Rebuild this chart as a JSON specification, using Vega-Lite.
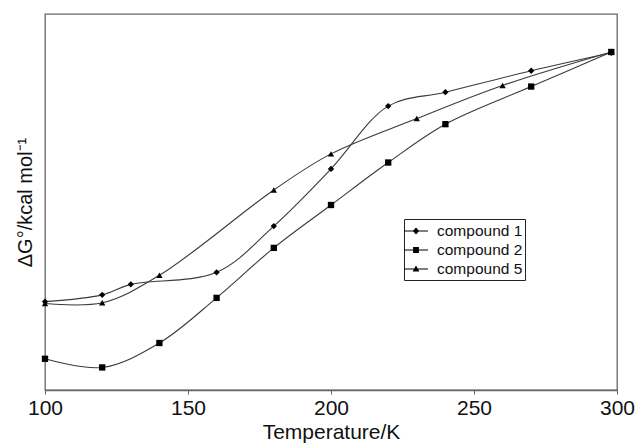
{
  "$schema": "https://vega.github.io/schema/vega-lite/v6.json",
  "width": 572,
  "height": 376,
  "autosize": {"type": "none"},
  "padding": {"left": 45, "top": 14, "right": 18, "bottom": 53},
  "background": "white",
  "config": {
    "font": "Liberation Sans",
    "view": {"stroke": "#666666", "strokeWidth": 1.3}
  },
  "data": {
    "values": [
      {"T": 100, "G": 23.5, "series": "compound 1"},
      {"T": 120, "G": 25.3, "series": "compound 1"},
      {"T": 130, "G": 28.1, "series": "compound 1"},
      {"T": 160, "G": 31.3, "series": "compound 1"},
      {"T": 180, "G": 43.6, "series": "compound 1"},
      {"T": 200, "G": 58.8, "series": "compound 1"},
      {"T": 220, "G": 75.5, "series": "compound 1"},
      {"T": 240, "G": 79.2, "series": "compound 1"},
      {"T": 270, "G": 84.9, "series": "compound 1"},
      {"T": 298, "G": 89.7, "series": "compound 1"},
      {"T": 100, "G": 8.3, "series": "compound 2"},
      {"T": 120, "G": 6.0, "series": "compound 2"},
      {"T": 140, "G": 12.5, "series": "compound 2"},
      {"T": 160, "G": 24.5, "series": "compound 2"},
      {"T": 180, "G": 37.8, "series": "compound 2"},
      {"T": 200, "G": 49.2, "series": "compound 2"},
      {"T": 220, "G": 60.5, "series": "compound 2"},
      {"T": 240, "G": 70.7, "series": "compound 2"},
      {"T": 270, "G": 80.7, "series": "compound 2"},
      {"T": 298, "G": 89.9, "series": "compound 2"},
      {"T": 100, "G": 23.0, "series": "compound 5"},
      {"T": 120, "G": 23.2, "series": "compound 5"},
      {"T": 140, "G": 30.5, "series": "compound 5"},
      {"T": 180, "G": 53.2, "series": "compound 5"},
      {"T": 200, "G": 62.8, "series": "compound 5"},
      {"T": 230, "G": 72.2, "series": "compound 5"},
      {"T": 260, "G": 81.0, "series": "compound 5"},
      {"T": 298, "G": 89.9, "series": "compound 5"}
    ]
  },
  "encoding": {
    "x": {
      "field": "T", "type": "quantitative",
      "scale": {"domain": [100, 300], "nice": false, "zero": false},
      "axis": {
        "title": "Temperature/K",
        "values": [100, 150, 200, 250, 300],
        "grid": false,
        "domainColor": "#666666",
        "domainWidth": 1.3,
        "tickColor": "#666666",
        "tickSize": 4,
        "labelFontSize": 21,
        "labelColor": "#111111",
        "labelPadding": 3,
        "labelFlush": false,
        "titleFontSize": 21,
        "titleFontWeight": "normal",
        "titleColor": "#111111",
        "titlePadding": 3
      }
    },
    "y": {
      "field": "G", "type": "quantitative",
      "scale": {"domain": [0, 100], "nice": false},
      "axis": {
        "title": "ΔG°/kcal mol⁻¹",
        "labels": false,
        "ticks": false,
        "grid": false,
        "domain": false,
        "titleFontSize": 20,
        "titleFontWeight": "normal",
        "titleColor": "#111111",
        "titlePadding": 10
      }
    }
  },
  "layer": [
    {
      "mark": {"type": "line", "interpolate": "catmull-rom", "color": "#3a3a3a", "strokeWidth": 1.1},
      "encoding": {"detail": {"field": "series"}}
    },
    {
      "mark": {"type": "point", "filled": true, "color": "black", "opacity": 1, "size": 40},
      "encoding": {
        "shape": {
          "field": "series", "type": "nominal",
          "scale": {"domain": ["compound 1", "compound 2", "compound 5"], "range": ["diamond", "square", "triangle-up"]},
          "legend": null
        }
      }
    },
    {
      "mark": {"type": "point", "filled": true, "color": "black", "opacity": 0, "size": 1},
      "encoding": {
        "shape": {
          "field": "series", "type": "nominal",
          "scale": {
            "domain": ["compound 1", "compound 2", "compound 5"],
            "range": [
              "M-1.2,-0.055H1.2V0.055H-1.2ZM0,-0.36L0.32,0L0,0.36L-0.32,0Z",
              "M-1.2,-0.055H1.2V0.055H-1.2ZM-0.29,-0.29H0.29V0.29H-0.29Z",
              "M-1.2,-0.055H1.2V0.055H-1.2ZM0,-0.34L0.34,0.26L-0.34,0.26Z"
            ]
          },
          "legend": {
            "title": null,
            "orient": "none",
            "legendX": 359,
            "legendY": 205,
            "strokeColor": "#222222",
            "padding": 2,
            "symbolSize": 400,
            "symbolOpacity": 1,
            "symbolFillColor": "black",
            "symbolStrokeWidth": 0,
            "labelFontSize": 15.5,
            "labelColor": "#111111",
            "labelOffset": 11,
            "rowPadding": 0
          }
        }
      }
    }
  ],
  "resolve": {"scale": {"shape": "independent"}}
}
